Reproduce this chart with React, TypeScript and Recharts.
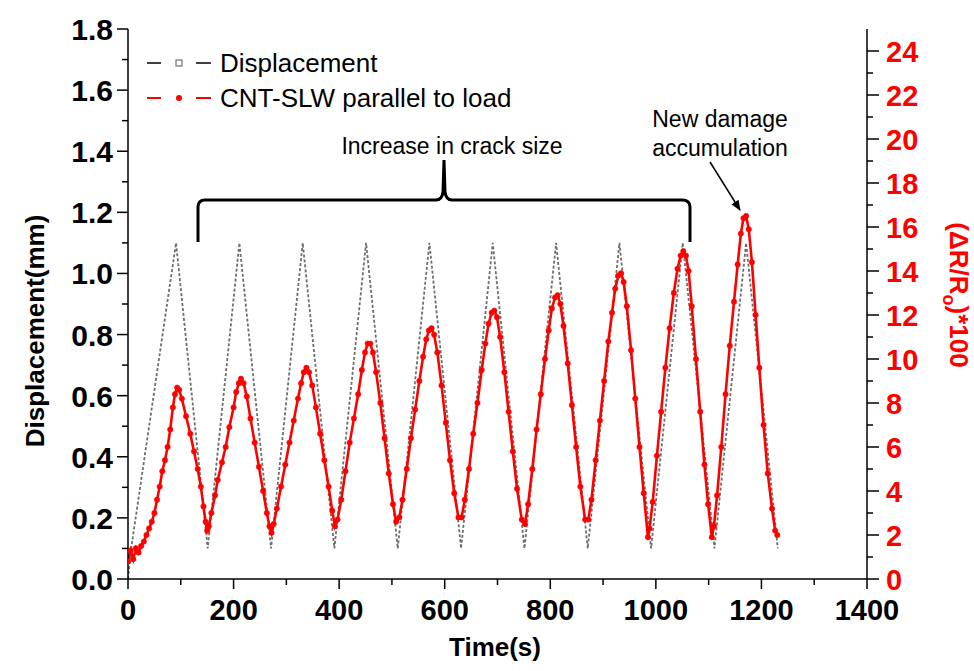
import React from 'react';
import { LineChart, Line, XAxis, YAxis } from 'recharts';

const FONT = "'Liberation Sans', Arial, Helvetica, sans-serif";

// Displacement (mm) vs time (s) - triangle wave vertices
const dispTime = [0, 6, 91, 151, 211, 271, 331, 391, 451, 511, 571, 631, 691, 751, 811, 871, 931, 991, 1051, 1111, 1171, 1231];
const dispValue = [0, 0.1, 1.1, 0.1, 1.1, 0.1, 1.1, 0.1, 1.1, 0.1, 1.1, 0.1, 1.1, 0.1, 1.1, 0.1, 1.1, 0.1, 1.1, 0.1, 1.1, 0.1];

// CNT-SLW parallel to load, (dR/Ro)*100 vs time (s)
const cntTime = [
  0, 5, 10, 15, 20, 25, 30, 35, 40, 45, 50, 55, 60, 65, 70, 75, 80, 85, 89, 93, 97, 102, 110, 118, 125, 132, 138, 143, 147, 150, 153,
  158, 165, 170, 178, 185, 192, 200, 205, 210, 214, 219, 225, 232, 240, 248, 256, 263, 268, 272, 276,
  282, 290, 298, 306, 314, 322, 328, 333, 338, 343, 349, 356, 364, 372, 380, 387, 392, 397,
  404, 412, 420, 428, 436, 443, 449, 454, 459, 464, 470, 478, 486, 494, 502, 508, 514,
  520, 528, 536, 544, 552, 559, 565, 570, 575, 580, 586, 594, 602, 610, 618, 626, 632,
  638, 646, 654, 662, 670, 677, 683, 689, 694, 699, 705, 713, 721, 729, 737, 746, 752,
  758, 766, 774, 782, 790, 797, 803, 809, 814, 819, 825, 833, 841, 849, 857, 866, 872,
  878, 886, 894, 902, 910, 917, 923, 929, 934, 939, 945, 953, 961, 969, 977, 985, 988,
  994, 1002, 1010, 1018, 1026, 1034, 1041, 1047, 1052, 1057, 1062, 1068, 1076, 1084, 1092, 1099, 1106, 1110,
  1116, 1124, 1132, 1140, 1148, 1155, 1161, 1166, 1171, 1176, 1182, 1189, 1196, 1204, 1212, 1220, 1226, 1230,
];
const cntValue = [
  0.8, 1.3, 0.9, 1.4, 1.2, 1.5, 1.7, 2.0, 2.3, 2.6, 3.0, 3.6, 4.2, 4.9, 5.4, 6.0, 6.8, 7.8, 8.4, 8.7, 8.6, 8.2, 7.4, 6.6, 5.8, 5.0, 4.2, 3.3, 2.6, 2.2, 2.4,
  3.0, 3.8, 4.5, 5.3, 6.0, 6.9, 7.8, 8.5, 8.9, 9.1, 8.9, 8.3, 7.3, 6.2, 5.1, 4.0, 3.0, 2.4, 2.1, 2.5,
  3.2, 4.2, 5.2, 6.2, 7.2, 8.2, 8.9, 9.4, 9.6, 9.4, 8.8, 7.8, 6.6, 5.4, 4.2, 3.1, 2.4, 2.7,
  3.6, 4.9, 6.2, 7.3, 8.4, 9.5, 10.3, 10.7, 10.7, 10.3, 9.4, 8.0, 6.4, 4.8, 3.4, 2.6, 2.8,
  3.6, 5.0, 6.4, 7.7, 9.0, 10.1, 10.9, 11.3, 11.4, 11.1, 10.3, 8.8, 7.1, 5.4, 3.9, 2.8, 2.8,
  3.6, 5.0, 6.6, 8.0, 9.5, 10.7, 11.6, 12.1, 12.2, 11.9, 11.0, 9.4, 7.6, 5.8, 4.1, 2.7, 2.5,
  3.4, 5.0, 6.8, 8.4, 10.0, 11.3, 12.3, 12.8, 12.9, 12.5, 11.5, 9.8, 7.9, 6.0, 4.2, 2.7, 2.7,
  3.6, 5.4, 7.2, 9.0, 10.8, 12.1, 13.2, 13.8, 13.9, 13.5, 12.4, 10.4, 8.2, 6.0, 3.9, 1.9, 2.3,
  3.5, 5.6, 7.6, 9.6, 11.4, 13.0, 14.1, 14.7, 14.9, 14.7, 14.0, 12.4, 10.0, 7.6, 5.2, 3.4, 1.9, 2.4,
  3.8, 6.0, 8.4, 10.6, 12.6, 14.3, 15.7, 16.4, 16.5, 15.9, 14.4, 12.0, 9.6, 7.0, 4.8, 3.2, 2.2, 2.0,
];

const xTicks = [0, 100, 200, 300, 400, 500, 600, 700, 800, 900, 1000, 1100, 1200, 1300, 1400];
const leftTicks = [0, 0.1, 0.2, 0.3, 0.4, 0.5, 0.6, 0.7, 0.8, 0.9, 1.0, 1.1, 1.2, 1.3, 1.4, 1.5, 1.6, 1.7, 1.8];
const rightTicks = [0, 1, 2, 3, 4, 5, 6, 7, 8, 9, 10, 11, 12, 13, 14, 15, 16, 17, 18, 19, 20, 21, 22, 23, 24];

const dispData = dispTime.map((t, i) => ({ t, d: dispValue[i] }));
const cntData = cntTime.map((t, i) => ({ t, r: cntValue[i] }));

const BottomTick = (props: any) => {
  const { x, y, payload } = props;
  const v = payload.value;
  const major = v % 200 === 0;
  return (
    <g>
      <line x1={x} y1={y} x2={x} y2={y + (major ? 10 : 6)} stroke="#000" strokeWidth={1.5} />
      {major && (
        <text x={x} y={y + 41} textAnchor="middle" fontFamily={FONT} fontWeight="bold" fontSize={29} fill="#000">
          {v}
        </text>
      )}
    </g>
  );
};

const TopTick = (props: any) => {
  const { x, y } = props;
  return <line x1={x} y1={y} x2={x} y2={y + 6} stroke="#000" strokeWidth={1.5} />;
};

const LeftTick = (props: any) => {
  const { x, y, payload } = props;
  const v = payload.value;
  const major = Math.round(v * 10) % 2 === 0;
  return (
    <g>
      <line x1={x - (major ? 11 : 6)} y1={y} x2={x} y2={y} stroke="#000" strokeWidth={1.5} />
      {major && (
        <text x={x - 15} y={y + 11} textAnchor="end" fontFamily={FONT} fontWeight="bold" fontSize={30} fill="#000">
          {v.toFixed(1)}
        </text>
      )}
    </g>
  );
};

const RightTick = (props: any) => {
  const { x, y, payload } = props;
  const v = payload.value;
  const major = v % 2 === 0;
  return (
    <g>
      <line x1={x} y1={y} x2={x + (major ? 12 : 6)} y2={y} stroke="#000" strokeWidth={1.5} />
      {major && (
        <text x={x + 19} y={y + 10.5} textAnchor="start" fontFamily={FONT} fontWeight="bold" fontSize={29} fill="#ff0000">
          {v}
        </text>
      )}
    </g>
  );
};

export default function App() {
  return (
    <div style={{ position: 'absolute', left: 0, top: 0, width: 974, height: 671, background: '#fff' }}>
      <LineChart width={974} height={671} margin={{ top: 29, right: 47, bottom: 52, left: 68 }}>
        <XAxis
          xAxisId="b"
          type="number"
          dataKey="t"
          domain={[0, 1400]}
          ticks={xTicks}
          interval={0}
          tickSize={0}
          tickMargin={0}
          tickLine={false}
          axisLine={{ stroke: '#000', strokeWidth: 1.5 }}
          tick={(p: any) => <BottomTick {...p} />}
          height={40}
          allowDataOverflow
        />
        <XAxis
          xAxisId="t"
          orientation="top"
          type="number"
          dataKey="t"
          domain={[0, 1400]}
          ticks={xTicks}
          interval={0}
          tickSize={0}
          tickMargin={0}
          tickLine={false}
          axisLine={{ stroke: '#000', strokeWidth: 1.5 }}
          tick={(p: any) => <TopTick {...p} />}
          height={0}
          allowDataOverflow
        />
        <YAxis
          yAxisId="l"
          type="number"
          domain={[0, 1.8]}
          ticks={leftTicks}
          interval={0}
          tickSize={0}
          tickMargin={0}
          tickLine={false}
          axisLine={{ stroke: '#000', strokeWidth: 1.5 }}
          tick={(p: any) => <LeftTick {...p} />}
          width={60}
          allowDataOverflow
        />
        <YAxis
          yAxisId="r"
          orientation="right"
          type="number"
          domain={[0, 25]}
          ticks={rightTicks}
          interval={0}
          tickSize={0}
          tickMargin={0}
          tickLine={false}
          axisLine={{ stroke: '#000', strokeWidth: 1.5 }}
          tick={(p: any) => <RightTick {...p} />}
          width={60}
          allowDataOverflow
        />
        <Line
          xAxisId="b"
          yAxisId="l"
          data={dispData}
          dataKey="d"
          type="linear"
          stroke="#6e6e6e"
          strokeWidth={1.8}
          strokeDasharray="3 2"
          dot={false}
          activeDot={false}
          isAnimationActive={false}
        />
        <Line
          xAxisId="b"
          yAxisId="r"
          data={cntData}
          dataKey="r"
          type="linear"
          stroke="#ff0000"
          strokeWidth={2.6}
          dot={{ r: 2.7, fill: '#ff0000', stroke: '#ff0000', strokeWidth: 0.5 }}
          activeDot={false}
          isAnimationActive={false}
        />
      </LineChart>
      <svg
        width={974}
        height={671}
        style={{ position: 'absolute', left: 0, top: 0, pointerEvents: 'none' }}
        fontFamily={FONT}
      >
        <defs>
          <marker id="arrowHead" viewBox="0 0 10 10" refX="9" refY="5" markerWidth="7" markerHeight="7" orient="auto">
            <path d="M0,1 L10,5 L0,9 z" fill="#000" />
          </marker>
        </defs>
        {/* axis titles */}
        <text x={44} y={331} transform="rotate(-90 44 331)" textAnchor="middle" fontWeight="bold" fontSize={26} fill="#000">
          Displacement(mm)
        </text>
        <text x={495} y={656} textAnchor="middle" fontWeight="bold" fontSize={26} fill="#000">
          Time(s)
        </text>
        <text x={950} y={295} transform="rotate(90 950 295)" textAnchor="middle" fontWeight="bold" fontSize={26} fill="#ff0000">
          (ΔR/R<tspan fontSize={18} dy={7}>o</tspan><tspan dy={-7}>)*100</tspan>
        </text>
        {/* legend */}
        <line x1={147} y1={63} x2={161} y2={63} stroke="#000" strokeWidth={1.5} />
        <rect x={176} y={60} width={6} height={6} fill="#fff" stroke="#555" strokeWidth={1} />
        <line x1={196} y1={63} x2={211} y2={63} stroke="#000" strokeWidth={1.5} />
        <text x={220} y={72} fontSize={26} fill="#000">Displacement</text>
        <line x1={147} y1={98} x2={161} y2={98} stroke="#ff0000" strokeWidth={2} />
        <circle cx={179} cy={98} r={3} fill="#ff0000" />
        <line x1={196} y1={98} x2={211} y2={98} stroke="#ff0000" strokeWidth={2} />
        <text x={220} y={107} fontSize={26} fill="#000">CNT-SLW parallel to load</text>
        {/* brace annotation */}
        <path
          d="M198 242 L198 207 Q198 200 205 200 L436 200 Q442 200 443 192 L444 160 L445 192 Q446 200 452 200 L682 200 Q690 200 690 207 L690 242"
          fill="none"
          stroke="#000"
          strokeWidth={3}
        />
        <text x={452} y={154} textAnchor="middle" fontSize={23} fill="#000">Increase in crack size</text>
        <text x={720} y={127} textAnchor="middle" fontSize={23} fill="#000">New damage</text>
        <text x={720} y={156} textAnchor="middle" fontSize={23} fill="#000">accumulation</text>
        <line x1={710} y1={162} x2={740} y2={210} stroke="#000" strokeWidth={1.5} markerEnd="url(#arrowHead)" />
      </svg>
    </div>
  );
}
